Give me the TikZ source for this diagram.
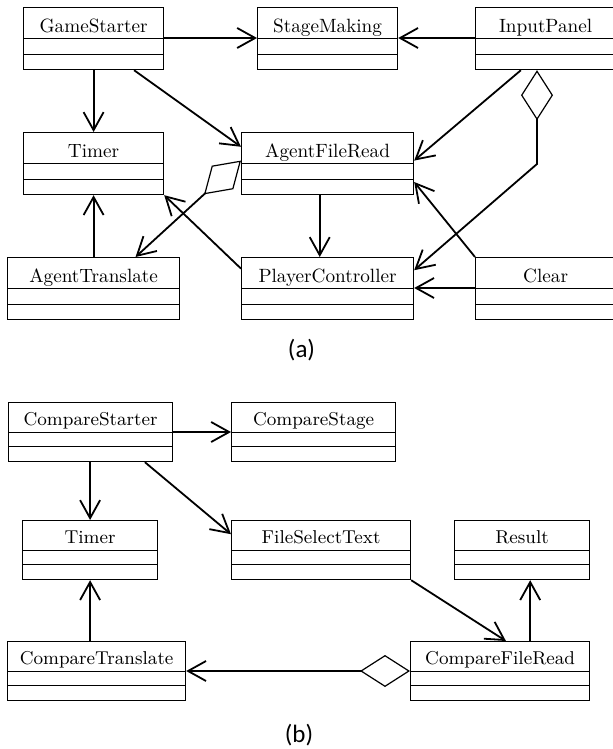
\documentclass[tikz,border=0pt]{standalone}
\usepackage{fontspec}
\newfontfamily\capfont{Carlito}
\usetikzlibrary{arrows.meta}

\begin{document}
\begin{tikzpicture}[x=0.5pt,y=-0.5pt,
  cls/.style={draw,line width=0.6pt,inner sep=0pt,anchor=north west},
  clsa/.style={cls,minimum width=#1,text height=12.5pt,text depth=18.5pt,
    font=\fontsize{9.6}{11}\selectfont,
    path picture={\draw[line width=0.6pt]
      ([yshift=-15.5pt]path picture bounding box.north west) -- ([yshift=-15.5pt]path picture bounding box.north east)
      ([yshift=-23.5pt]path picture bounding box.north west) -- ([yshift=-23.5pt]path picture bounding box.north east);}},
  clsb/.style={cls,minimum width=#1,text height=11.5pt,text depth=18pt,
    font=\fontsize{9.3}{11}\selectfont,
    path picture={\draw[line width=0.6pt]
      ([yshift=-15pt]path picture bounding box.north west) -- ([yshift=-15pt]path picture bounding box.north east)
      ([yshift=-22pt]path picture bounding box.north west) -- ([yshift=-22pt]path picture bounding box.north east);}},
  dep/.style={line width=0.9pt,-{Straight Barb[length=9pt,width=10pt]}},
  agg/.style={line width=0.9pt,{Diamond[length=25pt,width=16pt,fill=white,line width=0.6pt]}-{Straight Barb[length=9pt,width=10pt]}},
  partlabel/.style={font=\capfont\fontsize{12.5}{14}\selectfont}]

\useasboundingbox (0,0) rectangle (612,749);

\node[clsa=70pt] (a1) at (23,7) {GameStarter};
\node[clsa=70pt] (a2) at (257,7) {StageMaking};
\node[clsa=70pt] (a3) at (475,7) {InputPanel};
\node[clsa=70pt] (a4) at (23,132) {Timer};
\node[clsa=86pt] (a5) at (241,132) {AgentFileRead};
\node[clsa=86pt] (a6) at (7,257) {AgentTranslate};
\node[clsa=86pt] (a7) at (241,257) {PlayerController};
\node[clsa=70pt] (a8) at (475,257) {Clear};
\node[partlabel] (la) at (301.5,350) {(a)};
\coordinate (k1) at (537,164);

\draw[dep] ([yshift=-15.5pt]a1.north east) -- ([yshift=-15.5pt]a2.north west);
\draw[dep] ([yshift=-15.5pt]a3.north west) -- ([yshift=-15.5pt]a2.north east);
\draw[dep] (a1.south) -- (a4.north);
\draw[dep] (a1.-38.5) -- (a5.169);
\draw[dep] (a3.232) -- (a5.2);
\draw[agg] (k1 |- a3.south) -- (k1) -- (a7.12);
\draw[dep] (a5.-104.5) -- (a7.104.5);
\draw[dep] (a8.north west) -- (a5.-12.5);
\draw[dep] ([yshift=-15.5pt]a8.north west) -- ([yshift=-15.5pt]a7.north east);
\draw[dep] (a6.north) -- (a4.south);
\draw[dep] (a7.167) -- (a4.south east);
\draw[agg] (a5.178) -- (a6.37);

\node[clsb=82pt] (b1) at (8,402) {CompareStarter};
\node[clsb=82pt] (b2) at (231,402) {CompareStage};
\node[clsb=67.5pt] (b3) at (22,520) {Timer};
\node[clsb=89.5pt] (b4) at (231,520) {FileSelectText};
\node[clsb=67.5pt] (b5) at (454,520) {Result};
\node[clsb=89pt] (b6) at (7,641) {CompareTranslate};
\node[clsb=89.5pt] (b7) at (410,641) {CompareFileRead};
\node[partlabel] (lb) at (299,735) {(b)};

\draw[dep] ([yshift=-15pt]b1.north east) -- ([yshift=-15pt]b2.north west);
\draw[dep] (b3.north |- b1.south) -- (b3.north);
\draw[dep] (b1.-29.6) -- (b4.170);
\draw[dep] (b4.south east) -- (b7.79);
\draw[dep] (b7.45) -- (b7.45 |- b5.south);
\draw[dep] (b3.south |- b6.north) -- (b3.south);
\draw[agg] ([yshift=-15pt]b7.north west) -- ([yshift=-15pt]b6.north east);
\end{tikzpicture}
\end{document}
